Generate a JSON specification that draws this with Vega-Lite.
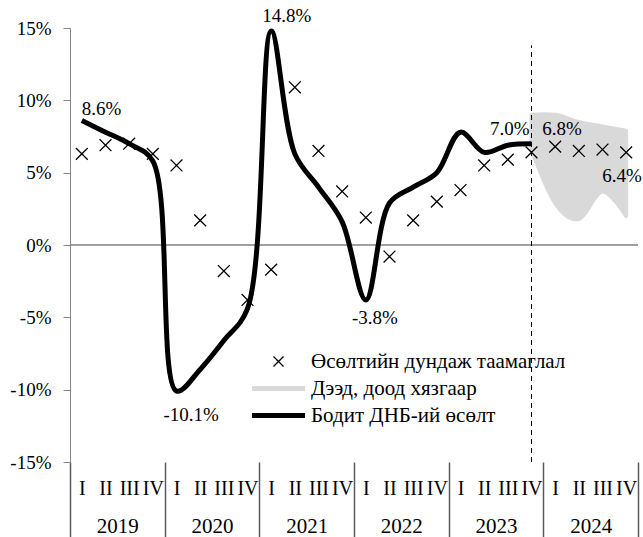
{
  "$schema": "https://vega.github.io/schema/vega-lite/v6.json",
  "width": 568,
  "height": 434,
  "autosize": "none",
  "padding": {"left": 70, "top": 28, "right": 5, "bottom": 75},
  "background": "white",
  "config": {
    "view": {"stroke": null},
    "font": "Liberation Serif",
    "locale": {"number": {"decimal": ".", "thousands": ",", "grouping": [3], "currency": ["$", ""], "minus": "-"}},
    "axis": {"grid": false, "labelFont": "Liberation Serif", "labelColor": "#000000"},
    "legend": {"labelFont": "Liberation Serif", "labelLimit": 0}
  },
  "datasets": {
    "gdp": [
      {"i": 0, "year": 2019, "quarter": "I", "actual": 0.086, "forecast": 0.063, "upper": null, "lower": null},
      {"i": 1, "year": 2019, "quarter": "II", "actual": 0.078, "forecast": 0.069, "upper": null, "lower": null},
      {"i": 2, "year": 2019, "quarter": "III", "actual": 0.070, "forecast": 0.070, "upper": null, "lower": null},
      {"i": 3, "year": 2019, "quarter": "IV", "actual": 0.058, "forecast": 0.063, "upper": null, "lower": null},
      {"i": 4, "year": 2020, "quarter": "I", "actual": -0.101, "forecast": 0.055, "upper": null, "lower": null},
      {"i": 5, "year": 2020, "quarter": "II", "actual": -0.086, "forecast": 0.017, "upper": null, "lower": null},
      {"i": 6, "year": 2020, "quarter": "III", "actual": -0.066, "forecast": -0.018, "upper": null, "lower": null},
      {"i": 7, "year": 2020, "quarter": "IV", "actual": -0.044, "forecast": -0.038, "upper": null, "lower": null},
      {"i": 8, "year": 2021, "quarter": "I", "actual": 0.148, "forecast": -0.017, "upper": null, "lower": null},
      {"i": 9, "year": 2021, "quarter": "II", "actual": 0.063, "forecast": 0.109, "upper": null, "lower": null},
      {"i": 10, "year": 2021, "quarter": "III", "actual": 0.040, "forecast": 0.065, "upper": null, "lower": null},
      {"i": 11, "year": 2021, "quarter": "IV", "actual": 0.016, "forecast": 0.037, "upper": null, "lower": null},
      {"i": 12, "year": 2022, "quarter": "I", "actual": -0.038, "forecast": 0.019, "upper": null, "lower": null},
      {"i": 13, "year": 2022, "quarter": "II", "actual": 0.029, "forecast": -0.008, "upper": null, "lower": null},
      {"i": 14, "year": 2022, "quarter": "III", "actual": 0.040, "forecast": 0.017, "upper": null, "lower": null},
      {"i": 15, "year": 2022, "quarter": "IV", "actual": 0.050, "forecast": 0.030, "upper": null, "lower": null},
      {"i": 16, "year": 2023, "quarter": "I", "actual": 0.078, "forecast": 0.038, "upper": null, "lower": null},
      {"i": 17, "year": 2023, "quarter": "II", "actual": 0.064, "forecast": 0.055, "upper": null, "lower": null},
      {"i": 18, "year": 2023, "quarter": "III", "actual": 0.069, "forecast": 0.059, "upper": null, "lower": null},
      {"i": 19, "year": 2023, "quarter": "IV", "actual": 0.070, "forecast": 0.064, "upper": 0.090, "lower": 0.066},
      {"i": 20, "year": 2024, "quarter": "I", "actual": null, "forecast": 0.068, "upper": 0.090, "lower": 0.029},
      {"i": 21, "year": 2024, "quarter": "II", "actual": null, "forecast": 0.065, "upper": 0.085, "lower": 0.018},
      {"i": 22, "year": 2024, "quarter": "III", "actual": null, "forecast": 0.066, "upper": 0.082, "lower": 0.037},
      {"i": 23, "year": 2024, "quarter": "IV", "actual": null, "forecast": 0.064, "upper": 0.079, "lower": 0.020}
    ]
  },
  "resolve": {"axis": {"x": "independent", "y": "independent"}},
  "layer": [
    {
      "data": {"name": "gdp"},
      "transform": [{"filter": "datum.upper != null"}],
      "mark": {"type": "area", "interpolate": "cardinal", "fill": "#d9d9d9", "strokeWidth": 4, "strokeJoin": "round", "opacity": 1},
      "encoding": {
        "x": {"field": "i", "type": "quantitative", "title": null,
          "scale": {"domain": [-0.5, 23.5], "nice": false, "zero": false},
          "axis": {"orient": "bottom", "values": [0,1,2,3,4,5,6,7,8,9,10,11,12,13,14,15,16,17,18,19,20,21,22,23],
            "labelExpr": "['I','II','III','IV'][datum.value % 4]",
            "ticks": false, "domain": false, "labelFontSize": 20, "labelPadding": 16,
            "labelFlush": false, "labelOverlap": false, "labelBound": false, "labelAlign": "center"}},
        "y": {"field": "upper", "type": "quantitative", "title": null,
          "scale": {"domain": [-0.15, 0.15], "nice": false, "zero": false}, "axis": null},
        "y2": {"field": "lower"},
        "stroke": {"datum": "Дээд, доод хязгаар", "type": "nominal",
          "scale": {"domain": ["Өсөлтийн дундаж таамаглал", "Дээд, доод хязгаар", "Бодит ДНБ-ий өсөлт"], "range": ["#000000", "#d9d9d9", "#000000"]},
          "legend": {
            "title": null, "orient": "none", "legendX": 198, "legendY": 323,
            "labelFont": "Liberation Serif", "labelFontSize": 21, "labelColor": "#000000", "labelLimit": 0,
            "symbolSize": 100, "labelOffset": 22, "rowPadding": 5,
            "encode": {"symbols": {"update": {
              "shape": {"signal": "datum.value === 'Өсөлтийн дундаж таамаглал' ? 'M-1,-1L1,1M1,-1L-1,1' : 'M-5.3,0L5.3,0'"},
              "strokeWidth": {"signal": "datum.value === 'Өсөлтийн дундаж таамаглал' ? 1.3 : 5"},
              "fill": {"value": "transparent"},
              "opacity": {"value": 1}
            }}}
          }}
      }
    },
    {
      "data": {"name": "gdp"},
      "transform": [{"filter": "datum.i == 0"}],
      "mark": {"type": "rule", "stroke": "#808080", "strokeWidth": 1.5},
      "encoding": {
        "y": {"datum": 0, "type": "quantitative", "title": null,
          "scale": {"domain": [-0.15, 0.15], "nice": false, "zero": false}, "axis": null}
      }
    },
    {
      "data": {"name": "gdp"},
      "transform": [{"filter": "datum.i == 19"}],
      "mark": {"type": "rule", "stroke": "#000000", "strokeWidth": 1, "strokeDash": [5, 4]},
      "encoding": {
        "x": {"field": "i", "type": "quantitative", "title": null,
          "scale": {"domain": [-0.5, 23.5], "nice": false, "zero": false},
          "axis": {"orient": "bottom", "values": [-0.5, 3.5, 7.5, 11.5, 15.5, 19.5, 23.5],
            "labels": false, "domain": false, "ticks": true, "tickSize": 75,
            "tickColor": "#595959", "tickWidth": 1.5}},
        "y": {"datum": -0.15, "type": "quantitative", "title": null,
          "scale": {"domain": [-0.15, 0.15], "nice": false, "zero": false}, "axis": null},
        "y2": {"datum": 0.138}
      }
    },
    {
      "data": {"name": "gdp"},
      "mark": {"type": "line", "interpolate": "catmull-rom", "strokeWidth": 5, "strokeJoin": "round"},
      "encoding": {
        "x": {"field": "i", "type": "quantitative", "title": null,
          "scale": {"domain": [-0.5, 23.5], "nice": false, "zero": false},
          "axis": {"orient": "bottom", "values": [1.5, 5.5, 9.5, 13.5, 17.5, 21.5],
            "labelExpr": "'' + (2019 + floor(datum.value / 4))",
            "ticks": false, "domain": false, "labelFontSize": 21, "labelPadding": 53,
            "labelFlush": false, "labelOverlap": false, "labelBound": false}},
        "y": {"field": "actual", "type": "quantitative", "title": null,
          "scale": {"domain": [-0.15, 0.15], "nice": false, "zero": false},
          "axis": {"orient": "left", "values": [-0.15, -0.1, -0.05, 0, 0.05, 0.1, 0.15], "format": ".0%",
            "labelFontSize": 19, "tickSize": 7, "labelPadding": 12,
            "domainColor": "#868686", "tickColor": "#868686", "domainWidth": 1, "tickWidth": 1}},
        "stroke": {"datum": "Бодит ДНБ-ий өсөлт", "type": "nominal",
          "legend": {
            "title": null, "orient": "none", "legendX": 198, "legendY": 323,
            "labelFont": "Liberation Serif", "labelFontSize": 21, "labelColor": "#000000", "labelLimit": 0,
            "symbolSize": 100, "labelOffset": 22, "rowPadding": 5,
            "encode": {"symbols": {"update": {
              "shape": {"signal": "datum.value === 'Өсөлтийн дундаж таамаглал' ? 'M-1,-1L1,1M1,-1L-1,1' : 'M-5.3,0L5.3,0'"},
              "strokeWidth": {"signal": "datum.value === 'Өсөлтийн дундаж таамаглал' ? 1.3 : 5"},
              "fill": {"value": "transparent"},
              "opacity": {"value": 1}
            }}}
          }}
      }
    },
    {
      "data": {"name": "gdp"},
      "mark": {"type": "point", "shape": "M-1,-1L1,1M1,-1L-1,1", "filled": false, "size": 140, "strokeWidth": 1.3, "opacity": 1},
      "encoding": {
        "x": {"field": "i", "type": "quantitative", "title": null,
          "scale": {"domain": [-0.5, 23.5], "nice": false, "zero": false}, "axis": null},
        "y": {"field": "forecast", "type": "quantitative", "title": null,
          "scale": {"domain": [-0.15, 0.15], "nice": false, "zero": false}, "axis": null},
        "stroke": {"datum": "Өсөлтийн дундаж таамаглал", "type": "nominal",
          "legend": {
            "title": null, "orient": "none", "legendX": 198, "legendY": 323,
            "labelFont": "Liberation Serif", "labelFontSize": 21, "labelColor": "#000000", "labelLimit": 0,
            "symbolSize": 100, "labelOffset": 22, "rowPadding": 5,
            "encode": {"symbols": {"update": {
              "shape": {"signal": "datum.value === 'Өсөлтийн дундаж таамаглал' ? 'M-1,-1L1,1M1,-1L-1,1' : 'M-5.3,0L5.3,0'"},
              "strokeWidth": {"signal": "datum.value === 'Өсөлтийн дундаж таамаглал' ? 1.3 : 5"},
              "fill": {"value": "transparent"},
              "opacity": {"value": 1}
            }}}
          }}
      }
    },
    {
      "data": {"name": "gdp"},
      "transform": [{"filter": "datum.i == 0"}],
      "mark": {"type": "text", "align": "left", "baseline": "middle", "dx": 0, "dy": -12, "fontSize": 19, "font": "Liberation Serif", "color": "#000000"},
      "encoding": {
        "x": {"field": "i", "type": "quantitative", "axis": null, "scale": {"domain": [-0.5, 23.5], "nice": false, "zero": false}},
        "y": {"field": "actual", "type": "quantitative", "axis": null, "scale": {"domain": [-0.15, 0.15], "nice": false, "zero": false}},
        "text": {"field": "actual", "format": ".1%"}
      }
    },
    {
      "data": {"name": "gdp"},
      "transform": [{"filter": "datum.i == 8"}],
      "mark": {"type": "text", "align": "left", "baseline": "middle", "dx": -9, "dy": -15, "fontSize": 19, "font": "Liberation Serif", "color": "#000000"},
      "encoding": {
        "x": {"field": "i", "type": "quantitative", "axis": null, "scale": {"domain": [-0.5, 23.5], "nice": false, "zero": false}},
        "y": {"field": "actual", "type": "quantitative", "axis": null, "scale": {"domain": [-0.15, 0.15], "nice": false, "zero": false}},
        "text": {"field": "actual", "format": ".1%"}
      }
    },
    {
      "data": {"name": "gdp"},
      "transform": [{"filter": "datum.i == 4"}],
      "mark": {"type": "text", "align": "left", "baseline": "middle", "dx": -13, "dy": 24, "fontSize": 19, "font": "Liberation Serif", "color": "#000000"},
      "encoding": {
        "x": {"field": "i", "type": "quantitative", "axis": null, "scale": {"domain": [-0.5, 23.5], "nice": false, "zero": false}},
        "y": {"field": "actual", "type": "quantitative", "axis": null, "scale": {"domain": [-0.15, 0.15], "nice": false, "zero": false}},
        "text": {"field": "actual", "format": ".1%"}
      }
    },
    {
      "data": {"name": "gdp"},
      "transform": [{"filter": "datum.i == 12"}],
      "mark": {"type": "text", "align": "center", "baseline": "middle", "dx": 9, "dy": 18, "fontSize": 19, "font": "Liberation Serif", "color": "#000000"},
      "encoding": {
        "x": {"field": "i", "type": "quantitative", "axis": null, "scale": {"domain": [-0.5, 23.5], "nice": false, "zero": false}},
        "y": {"field": "actual", "type": "quantitative", "axis": null, "scale": {"domain": [-0.15, 0.15], "nice": false, "zero": false}},
        "text": {"field": "actual", "format": ".1%"}
      }
    },
    {
      "data": {"name": "gdp"},
      "transform": [{"filter": "datum.i == 19"}],
      "mark": {"type": "text", "align": "right", "baseline": "middle", "dx": -2, "dy": -15, "fontSize": 19, "font": "Liberation Serif", "color": "#000000"},
      "encoding": {
        "x": {"field": "i", "type": "quantitative", "axis": null, "scale": {"domain": [-0.5, 23.5], "nice": false, "zero": false}},
        "y": {"field": "actual", "type": "quantitative", "axis": null, "scale": {"domain": [-0.15, 0.15], "nice": false, "zero": false}},
        "text": {"field": "actual", "format": ".1%"}
      }
    },
    {
      "data": {"name": "gdp"},
      "transform": [{"filter": "datum.i == 20"}],
      "mark": {"type": "text", "align": "left", "baseline": "middle", "dx": -13, "dy": -18, "fontSize": 19, "font": "Liberation Serif", "color": "#000000"},
      "encoding": {
        "x": {"field": "i", "type": "quantitative", "axis": null, "scale": {"domain": [-0.5, 23.5], "nice": false, "zero": false}},
        "y": {"field": "forecast", "type": "quantitative", "axis": null, "scale": {"domain": [-0.15, 0.15], "nice": false, "zero": false}},
        "text": {"field": "forecast", "format": ".1%"}
      }
    },
    {
      "data": {"name": "gdp"},
      "transform": [{"filter": "datum.i == 23"}],
      "mark": {"type": "text", "align": "left", "baseline": "middle", "dx": -24, "dy": 24, "fontSize": 19, "font": "Liberation Serif", "color": "#000000"},
      "encoding": {
        "x": {"field": "i", "type": "quantitative", "axis": null, "scale": {"domain": [-0.5, 23.5], "nice": false, "zero": false}},
        "y": {"field": "forecast", "type": "quantitative", "axis": null, "scale": {"domain": [-0.15, 0.15], "nice": false, "zero": false}},
        "text": {"field": "forecast", "format": ".1%"}
      }
    }
  ]
}
